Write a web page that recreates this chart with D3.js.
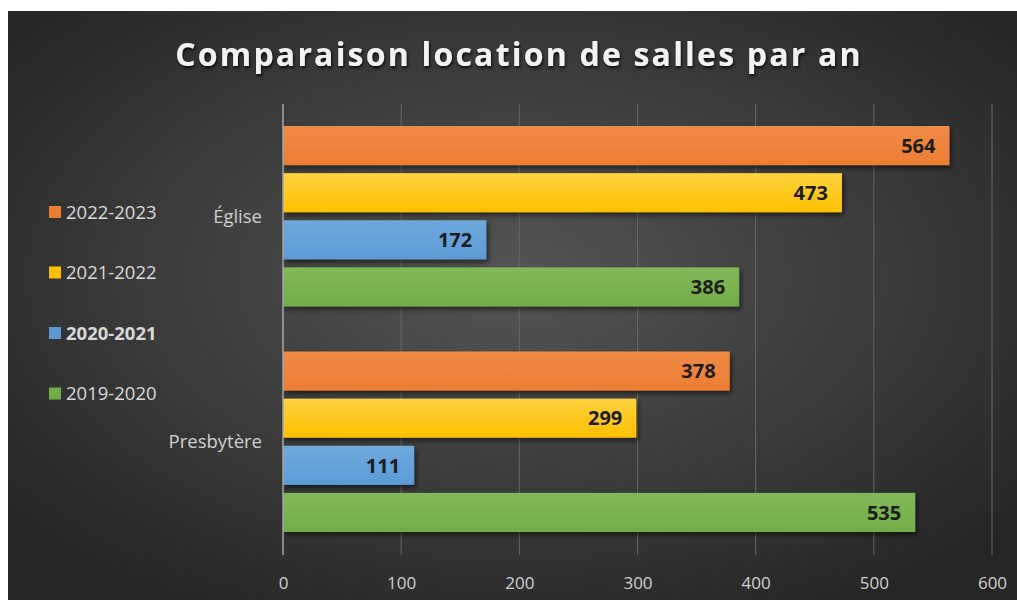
<!DOCTYPE html>
<html>
<head>
<meta charset="utf-8">
<script src="https://cdn.jsdelivr.net/npm/d3@7"></script>
<style>
  html, body { margin: 0; padding: 0; background: #fff; }
  svg { display: block; }
</style>
</head>
<body>
<div id="chart"></div>
<script>
// Comparaison location de salles par an - horizontal grouped bars

const categories = ["Église", "Presbytère"];
const seasons = ["2022-2023", "2021-2022", "2020-2021", "2019-2020"];
const v2022_2023 = [564, 378];
const v2021_2022 = [473, 299];
const v2020_2021 = [172, 111];
const v2019_2020 = [386, 535];
const xTicks = [0, 100, 200, 300, 400, 500, 600];

const seriesValues = {
  "2022-2023": v2022_2023,
  "2021-2022": v2021_2022,
  "2020-2021": v2020_2021,
  "2019-2020": v2019_2020
};
const colors = {
  "2022-2023": ["#F08A45", "#ED7D31"],
  "2021-2022": ["#FFD23F", "#FFC000"],
  "2020-2021": ["#6FA9DD", "#5B9BD5"],
  "2019-2020": ["#80BA58", "#70AD47"]
};

const W = 1017, H = 600;
const margin = {top: 104, right: 25, bottom: 45, left: 283};

const svg = d3.select("#chart").append("svg")
  .attr("width", W)
  .attr("height", H);

const defs = svg.append("defs");

// background radial gradient
const bg = defs.append("radialGradient")
  .attr("id", "bg")
  .attr("cx", "50%").attr("cy", "45%").attr("r", "65%");
bg.append("stop").attr("offset", "0%").attr("stop-color", "#555555");
bg.append("stop").attr("offset", "100%").attr("stop-color", "#262626");

// bar gradients
seasons.forEach((s, i) => {
  const g = defs.append("linearGradient")
    .attr("id", "bar" + i)
    .attr("x1", 0).attr("y1", 0).attr("x2", 0).attr("y2", 1);
  g.append("stop").attr("offset", "0%").attr("stop-color", colors[s][0]);
  g.append("stop").attr("offset", "100%").attr("stop-color", colors[s][1]);
});

const shadow = defs.append("filter").attr("id", "shadow")
  .attr("x", "-5%").attr("y", "-20%").attr("width", "115%").attr("height", "160%");
shadow.append("feDropShadow")
  .attr("dx", 2).attr("dy", 3).attr("stdDeviation", 2.5)
  .attr("flood-color", "#000").attr("flood-opacity", 0.55);

const titleShadow = defs.append("filter").attr("id", "tshadow");
titleShadow.append("feDropShadow")
  .attr("dx", 1).attr("dy", 2).attr("stdDeviation", 1.5)
  .attr("flood-color", "#000").attr("flood-opacity", 0.8);

svg.append("rect")
  .attr("x", 8).attr("y", 11)
  .attr("width", W - 8).attr("height", H - 11)
  .attr("fill", "url(#bg)");

const x = d3.scaleLinear()
  .domain([0, 600])
  .range([margin.left, 992]);

const y0 = d3.scaleBand()
  .domain(categories)
  .range([margin.top, H - margin.bottom])
  .paddingInner(0)
  .paddingOuter(0);

const y1 = d3.scaleBand()
  .domain(seasons)
  .range([22, y0.bandwidth() - 23])
  .paddingInner(0.17)
  .paddingOuter(0);

// gridlines
svg.append("g")
  .selectAll("line")
  .data(xTicks.slice(1))
  .join("line")
  .attr("x1", d => x(d)).attr("x2", d => x(d))
  .attr("y1", margin.top).attr("y2", H - margin.bottom)
  .attr("stroke", "#666666")
  .attr("stroke-width", 1);

// bars
const groups = svg.append("g")
  .selectAll("g")
  .data(categories)
  .join("g")
  .attr("transform", d => `translate(0,${y0(d)})`);

groups.selectAll("rect")
  .data((c, ci) => seasons.map((s, si) => ({s, si, v: seriesValues[s][ci]})))
  .join("rect")
  .attr("x", x(0))
  .attr("y", d => y1(d.s))
  .attr("width", d => x(d.v) - x(0))
  .attr("height", y1.bandwidth())
  .attr("fill", d => `url(#bar${d.si})`)
  .attr("filter", "url(#shadow)");

groups.selectAll("text")
  .data((c, ci) => seasons.map((s, si) => ({s, si, v: seriesValues[s][ci]})))
  .join("text")
  .attr("x", d => x(d.v) - 14)
  .attr("y", d => y1(d.s) + y1.bandwidth() / 2)
  .attr("dy", "0.36em")
  .attr("text-anchor", "end")
  .attr("font-family", "'Open Sans', sans-serif")
  .attr("font-weight", "bold")
  .attr("font-size", 20)
  .attr("fill", "#1c1c1c")
  .text(d => d.v);

// zero axis line
svg.append("line")
  .attr("x1", x(0)).attr("x2", x(0))
  .attr("y1", margin.top).attr("y2", H - margin.bottom)
  .attr("stroke", "#a6a6a6")
  .attr("stroke-width", 1.5);

// x axis labels
const xAxis = svg.append("g")
  .attr("transform", `translate(0,${H - margin.bottom})`)
  .call(d3.axisBottom(x).tickValues(xTicks).tickSize(0).tickPadding(22));
xAxis.select(".domain").remove();
xAxis.selectAll("text")
  .attr("font-family", "'Open Sans', sans-serif")
  .attr("font-size", 17)
  .attr("fill", "#d0d0d0");

// category labels
const yAxis = svg.append("g")
  .attr("transform", `translate(${x(0)},0)`)
  .call(d3.axisLeft(y0).tickSize(0).tickPadding(21));
yAxis.select(".domain").remove();
yAxis.selectAll("text")
  .attr("font-family", "'Open Sans', sans-serif")
  .attr("font-size", 18.5)
  .attr("fill", "#d0d0d0");

// legend
const legend = svg.append("g")
  .selectAll("g")
  .data(seasons)
  .join("g")
  .attr("transform", (d, i) => `translate(49,${212 + i * 60.5})`);
legend.append("rect")
  .attr("x", 0).attr("y", -6)
  .attr("width", 12).attr("height", 12)
  .attr("fill", d => colors[d][1]);
legend.append("text")
  .attr("x", 17)
  .attr("dy", "0.36em")
  .attr("font-family", "'Open Sans', sans-serif")
  .attr("font-size", 18.5)
  .attr("font-weight", d => d === "2020-2021" ? "bold" : "normal")
  .attr("fill", "#d9d9d9")
  .text(d => d);

// title
svg.append("text")
  .attr("x", 519)
  .attr("y", 54)
  .attr("dy", "0.36em")
  .attr("text-anchor", "middle")
  .attr("font-family", "'Open Sans', sans-serif")
  .attr("font-weight", "bold")
  .attr("font-size", 32)
  .attr("letter-spacing", 2.2)
  .attr("fill", "#f2f2f2")
  .attr("filter", "url(#tshadow)")
  .text("Comparaison location de salles par an");
</script>
</body>
</html>
